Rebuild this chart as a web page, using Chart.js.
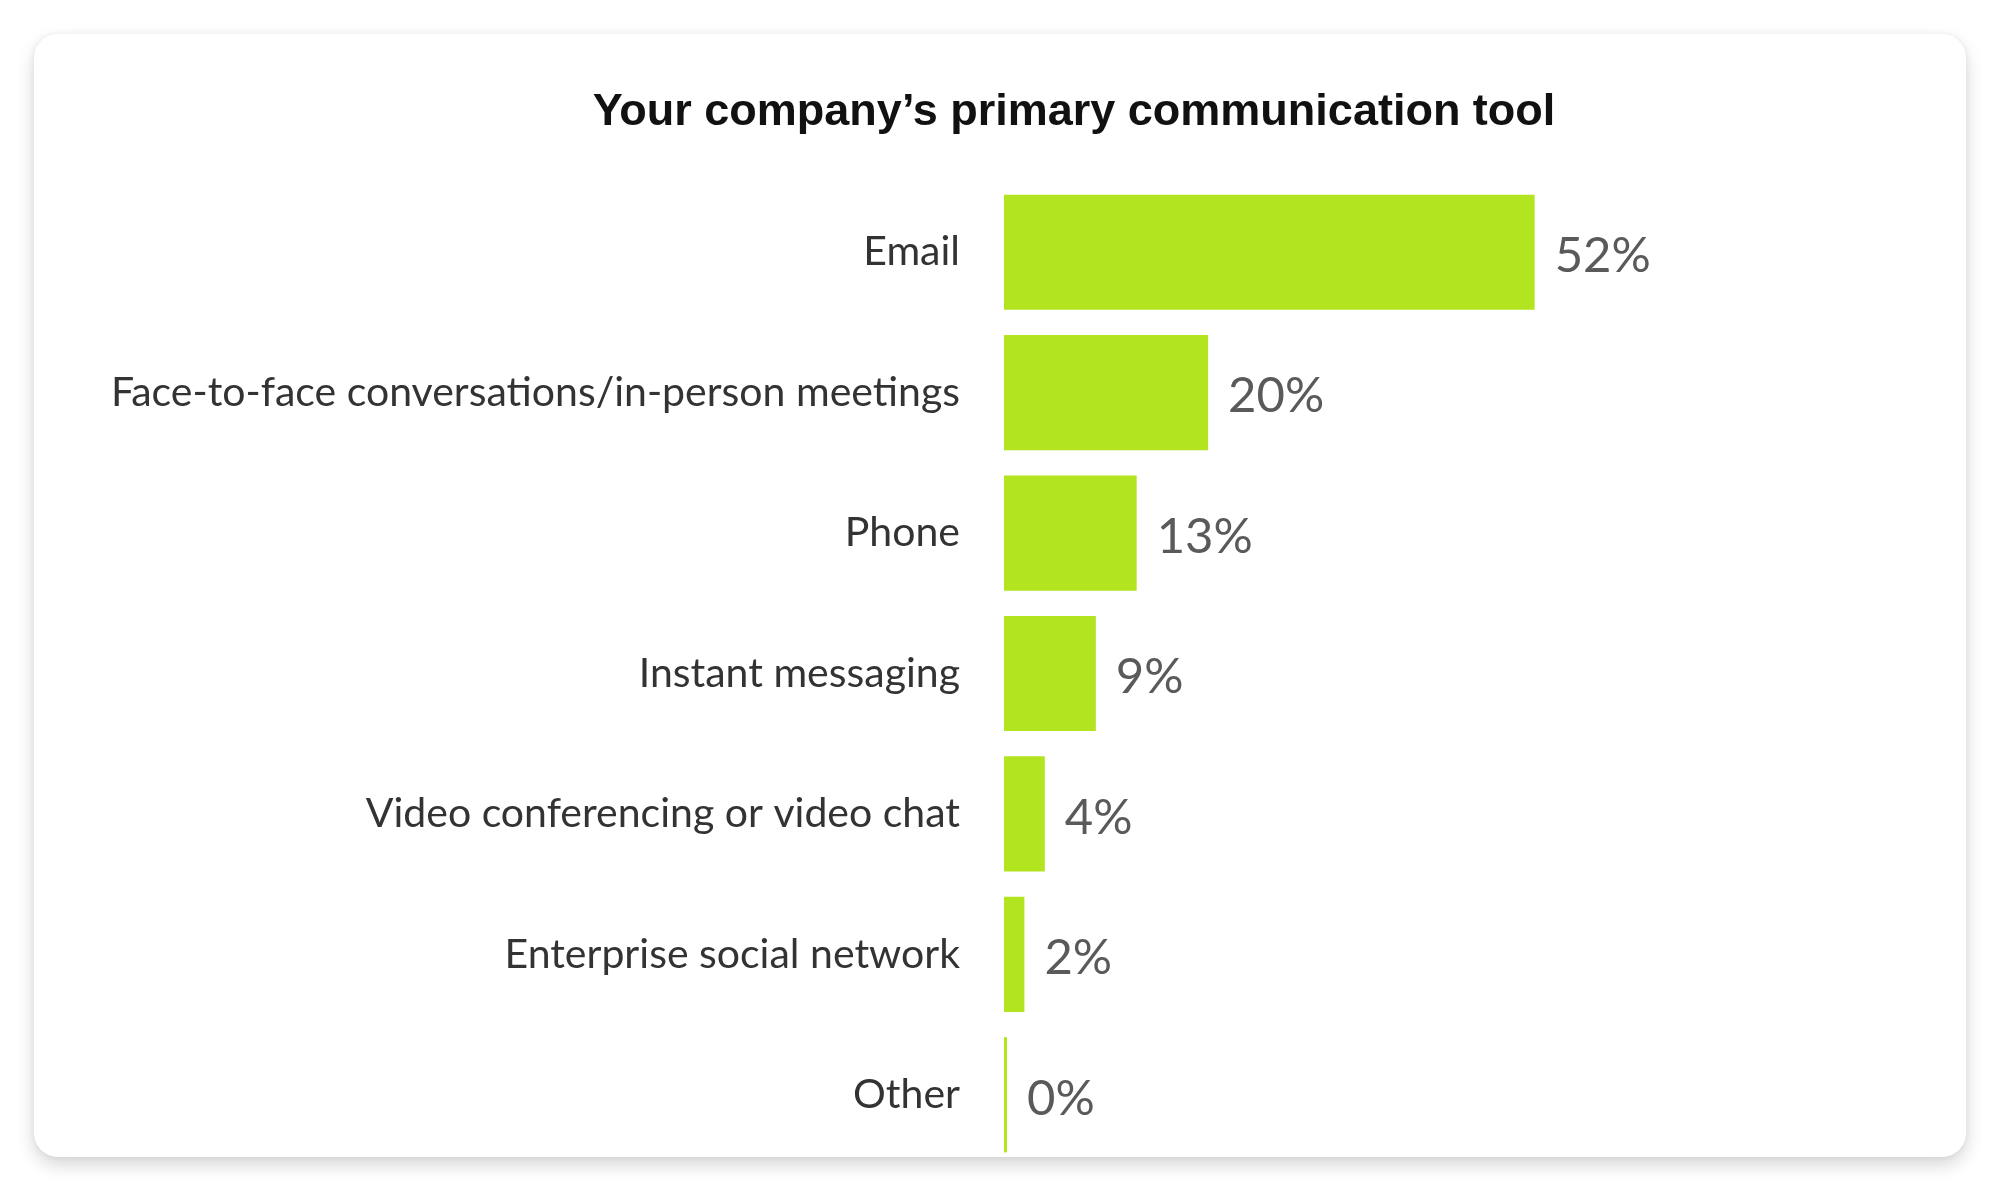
<!DOCTYPE html>
<html>
<head>
<meta charset="utf-8">
<script src="https://cdn.jsdelivr.net/npm/chart.js@4.4.1/dist/chart.umd.min.js"></script>
<style>
  html, body { margin: 0; padding: 0; background: #ffffff; }
  body { width: 2000px; height: 1193px; position: relative; overflow: hidden; }
  #card {
    position: absolute; left: 34px; top: 34px; width: 1932px; height: 1123px;
    background: #ffffff; border-radius: 24px;
    box-shadow: 0 8px 18px rgba(0,0,0,0.16), 0 0 6px rgba(0,0,0,0.06);
  }
  #wrap { position: absolute; left: 0; top: 0; width: 2000px; height: 1193px; }
</style>
</head>
<body>
<div id="card"></div>
<div id="wrap"><canvas id="toolChart"></canvas></div>
<script>
const title = 'Your company\u2019s primary communication tool';

const categories = [
  'Email',
  'Face-to-face conversations/in-person meetings',
  'Phone',
  'Instant messaging',
  'Video conferencing or video chat',
  'Enterprise social network',
  'Other'
];

const shares = [52, 20, 13, 9, 4, 2, 0];

// percent labels drawn just past the end of each bar
const valueLabels = {
  id: 'valueLabels',
  afterDatasetsDraw(chart) {
    const ctx = chart.ctx;
    const meta = chart.getDatasetMeta(0);
    ctx.save();
    ctx.font = '49px Lato';
    ctx.fillStyle = '#5a5a5a';
    ctx.textAlign = 'left';
    ctx.textBaseline = 'middle';
    meta.data.forEach((bar, i) => {
      ctx.fillText(shares[i] + '%', bar.x + 20, bar.y + 4);
    });
    ctx.restore();
  }
};

const ctx = document.getElementById('toolChart').getContext('2d');

const config = {
  type: 'bar',
  data: {
    labels: categories,
    datasets: [{
      data: shares,
      backgroundColor: '#b2e41f',
      borderWidth: 0,
      barPercentage: 0.82,
      categoryPercentage: 1,
      minBarLength: 3
    }]
  },
  options: {
    indexAxis: 'y',
    responsive: false,
    animation: false,
    devicePixelRatio: 1,
    layout: {
      // negative right padding only shifts the title centre to match the picture
      padding: { left: 90, right: -58, top: 0, bottom: 28 }
    },
    plugins: {
      legend: { display: false },
      tooltip: { enabled: false },
      title: {
        display: true,
        text: title,
        color: '#111111',
        font: { family: 'Liberation Sans', size: 45, weight: 'bold', lineHeight: 1.2 },
        padding: { top: 86, bottom: 42 }
      }
    },
    scales: {
      x: {
        display: false,
        min: 0,
        max: 97.6
      },
      y: {
        afterFit: function (axis) {
          axis.width = 914;
          axis.paddingTop = 0;
          axis.paddingBottom = 0;
        },
        grid: { display: false, drawTicks: false },
        border: { display: false },
        ticks: {
          color: '#333333',
          padding: 44,
          font: { family: 'Lato', size: 41 }
        }
      }
    }
  },
  plugins: [valueLabels]
};

const canvas = document.getElementById('toolChart');
canvas.width = 2000;
canvas.height = 1193;
const toolChart = new Chart(ctx, config);
</script>
</body>
</html>
